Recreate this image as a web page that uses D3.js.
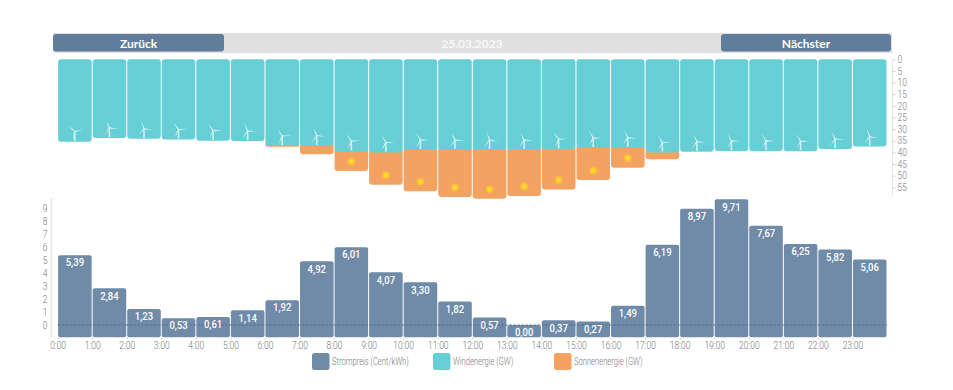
<!DOCTYPE html>
<html>
<head>
<meta charset="utf-8">
<script src="https://cdn.jsdelivr.net/npm/d3@7"></script>
<style>
	body { margin: 0; background: #fff; }
	text { font-family: Roboto, sans-serif; }
	.btn { font-family: Lato, sans-serif; font-weight: 700; font-size: 12px; fill: #fff; text-anchor: middle; }
	.tick-label { font-size: 10px; font-weight: 300; fill: #777; }
	.val { font-weight: 500; font-size: 10px; fill: #fff; text-anchor: middle; }
</style>
</head>
<body>
<svg id="chart" width="953" height="390"></svg>
<script>
const HOURS = d3.range(24).map(d => `${d}:00`);
const WIND = [35.4, 33.8, 34.1, 34.5, 35, 35.1, 37.3, 37.1, 39.5, 40.1, 39, 39, 39, 39, 38.7, 38.1, 38, 40.1, 39.7, 39.4, 39.4, 39.5, 38.5, 37.5];
const SUN = [0, 0, 0, 0, 0, 0, 0.3, 3.7, 8.5, 13.8, 17.7, 20.2, 20.9, 19.7, 17.2, 13.8, 8.6, 2.8, 0, 0, 0, 0, 0, 0];
const PRICE = [5.39, 2.84, 1.23, 0.53, 0.61, 1.14, 1.92, 4.92, 6.01, 4.07, 3.3, 1.82, 0.57, 0, 0.37, 0.27, 1.49, 6.19, 8.97, 9.71, 7.67, 6.25, 5.82, 5.06];
const SPIN = [-45, -25, -20, -35, -35, -25, -35, -25, -35, -30, -30, -25, -20, -25, -35, -30, -25, -30, -25, -30, -30, -30, -25, -20];
const ENERGY_TICKS = d3.range(0, 60, 5);
const PRICE_TICKS = d3.range(0, 10);
const LEGEND = ['Strompreis (Cent/kWh)', 'Windenergie (GW)', 'Sonnenenergie (GW)'];
const DATE = '25.03.2023';

const COLOR = { price: '#6f8ba8', wind: '#66cfd6', sun: '#f4a261', button: '#607d9c', track: '#e0e0e0', axis: '#e6e6e6' };
const GAP = 0.5;
const RADIUS = 3;

const svg = d3.select('#chart');

const x = d3.scaleLinear().domain([0, 24]).range([57.6, 887]);
const yEnergy = d3.scaleLinear().domain([0, 55]).range([59.3, 187.3]);
const yPrice = d3.scaleLinear().domain([0, 9]).range([325, 208.4]);
const priceBase = 337.3;

// squeeze roboto down to the narrow look of the original labels
function condense(sel, factor) {
	sel.each(function () {
		const len = this.getComputedTextLength();
		d3.select(this).attr('textLength', len * factor).attr('lengthAdjust', 'spacingAndGlyphs');
	});
}

// header
svg.append('rect').attr('x', 53).attr('y', 33).attr('width', 839).attr('height', 20).attr('fill', COLOR.track);
[[53, 224, 'Zurück'], [721, 891, 'Nächster']].forEach(([a, b, label]) => {
	svg.append('rect').attr('x', a).attr('y', 34).attr('width', b - a).attr('height', 17.5).attr('rx', 3).attr('fill', COLOR.button);
	svg.append('text').attr('class', 'btn').attr('x', (a + b) / 2).attr('y', 48).text(label);
});
svg.append('text').attr('x', 472).attr('y', 48).attr('text-anchor', 'middle')
	.style('font-family', 'Lato, sans-serif').style('font-weight', 700).style('font-size', '12px')
	.attr('fill', '#f7f7f7').text(DATE);

// wind + sun
svg.append('g').selectAll('rect').data(SUN).join('rect')
	.attr('x', (d, i) => x(i) + GAP)
	.attr('width', (d, i) => x(i + 1) - x(i) - GAP * 2)
	.attr('y', (d, i) => yEnergy(WIND[i]) - (d ? RADIUS : 0))
	.attr('height', d => d ? yEnergy(d) - yEnergy(0) + RADIUS : 0)
	.attr('rx', RADIUS)
	.attr('fill', COLOR.sun);

svg.append('g').selectAll('rect').data(WIND).join('rect')
	.attr('x', (d, i) => x(i) + GAP)
	.attr('y', yEnergy(0))
	.attr('width', (d, i) => x(i + 1) - x(i) - GAP * 2)
	.attr('height', d => yEnergy(d) - yEnergy(0))
	.attr('rx', RADIUS)
	.attr('fill', COLOR.wind);

// turbines
const blade = 'M-0.7,0 L0,-9 L0.7,0 Z';
const turbines = svg.append('g').attr('opacity', 0.85).selectAll('g').data(WIND).join('g')
	.attr('transform', (d, i) => `translate(${(x(i) + x(i + 1)) / 2},${yEnergy(d) - 10})`);
turbines.append('path').attr('d', 'M-0.6,0 L-0.9,9 L0.9,9 L0.6,0 Z').attr('fill', '#e6f8fa');
turbines.each(function (d, i) {
	d3.select(this).selectAll('path.blade').data([0, 120, 240]).join('path')
		.attr('class', 'blade')
		.attr('d', blade)
		.attr('fill', '#eafafb')
		.attr('transform', a => `rotate(${a + SPIN[i]})`);
});

// suns
const glow = svg.append('defs').append('radialGradient').attr('id', 'glow');
glow.append('stop').attr('offset', '25%').attr('stop-color', '#ffe11a');
glow.append('stop').attr('offset', '100%').attr('stop-color', '#ffc83c').attr('stop-opacity', 0);
const sunHours = SUN.map((d, i) => ({ d, i })).filter(s => s.d > 5);
svg.append('g').selectAll('circle').data(sunHours).join('circle')
	.attr('cx', s => (x(s.i) + x(s.i + 1)) / 2)
	.attr('cy', s => yEnergy(WIND[s.i] + s.d) - 9.5)
	.attr('r', 5)
	.attr('fill', 'url(#glow)');

// energy axis
const axisEnergy = d3.axisRight(yEnergy).tickValues(ENERGY_TICKS).tickSize(3).tickPadding(2);
const gEnergy = svg.append('g').attr('transform', 'translate(892.5,0)').call(axisEnergy);
gEnergy.select('.domain').attr('stroke', COLOR.axis).attr('d', `M0,${yEnergy(0)}V${yEnergy(55) + 8}`);
gEnergy.selectAll('.tick line').attr('stroke', '#d0d0d0');
gEnergy.selectAll('.tick text').attr('class', 'tick-label').call(condense, 0.85);

// price bars
svg.append('g').selectAll('rect').data(PRICE).join('rect')
	.attr('x', (d, i) => x(i) + GAP)
	.attr('y', d => yPrice(d))
	.attr('width', (d, i) => x(i + 1) - x(i) - GAP * 2)
	.attr('height', d => priceBase - yPrice(d))
	.attr('rx', 2)
	.attr('fill', COLOR.price);

svg.append('line')
	.attr('x1', x(0)).attr('x2', x(24))
	.attr('y1', yPrice(0)).attr('y2', yPrice(0))
	.attr('stroke', '#4f6a86').attr('stroke-dasharray', '2 2');

svg.append('g').selectAll('text').data(PRICE).join('text')
	.attr('class', 'val')
	.attr('x', (d, i) => (x(i) + x(i + 1)) / 2)
	.attr('y', d => yPrice(d) + 11.3)
	.text(d => d3.format('.2f')(d).replace('.', ','))
	.call(condense, 0.95);

// price axes
const axisPrice = d3.axisLeft(yPrice).tickValues(PRICE_TICKS).tickSize(0).tickPadding(4);
const gPrice = svg.append('g').attr('transform', 'translate(51.5,0)').call(axisPrice);
gPrice.select('.domain').attr('stroke', COLOR.axis).attr('stroke-width', 1.5).attr('d', `M0,198V${priceBase}`);
gPrice.selectAll('.tick text').attr('class', 'tick-label').call(condense, 0.85);

const axisHour = d3.axisBottom(x).tickValues(d3.range(24)).tickFormat(i => HOURS[i]).tickSize(2).tickPadding(3);
const gHour = svg.append('g').attr('transform', `translate(0,${priceBase})`).call(axisHour);
gHour.select('.domain').remove();
gHour.selectAll('.tick line').attr('stroke', '#c8c8c8');
gHour.selectAll('.tick text').attr('class', 'tick-label').call(condense, 0.85);

// legend
const legendX = d3.scalePoint().domain(LEGEND).range([312, 554]);
const legendColors = d3.scaleOrdinal().domain(LEGEND).range([COLOR.price, COLOR.wind, COLOR.sun]);
const legend = svg.append('g').selectAll('g').data(LEGEND).join('g')
	.attr('transform', d => `translate(${legendX(d)},353)`);
legend.append('rect').attr('width', 17.5).attr('height', 17).attr('rx', 2.5).attr('fill', d => legendColors(d));
legend.append('text').attr('class', 'tick-label').attr('x', 20).attr('y', 12).text(d => d).call(condense, 0.76);
</script>
</body>
</html>
